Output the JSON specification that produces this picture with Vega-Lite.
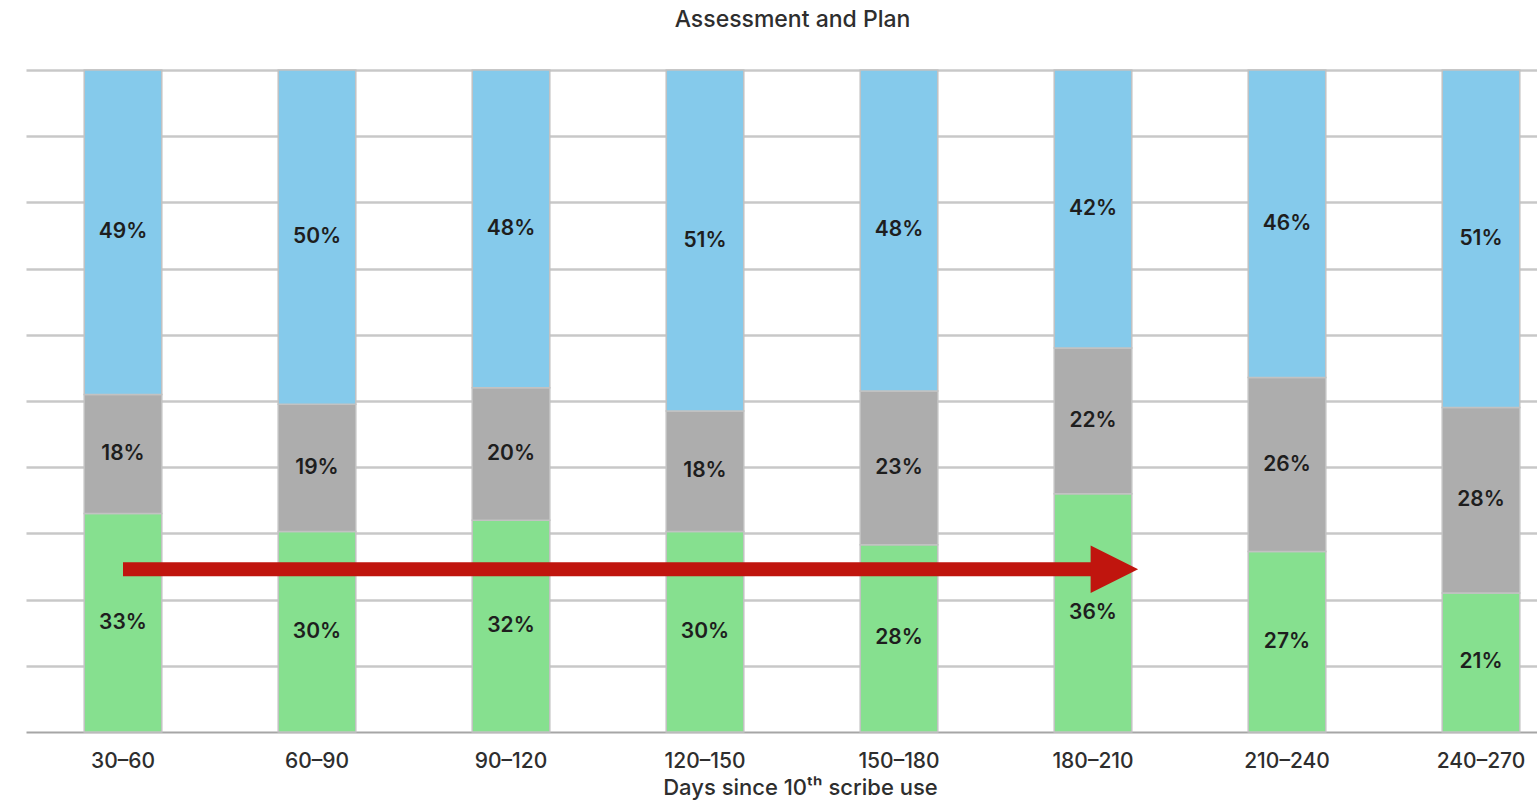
{
  "$schema": "https://vega.github.io/schema/vega-lite/v6.json",
  "autosize": {"type": "none"},
  "padding": {"left": 26, "top": 70, "right": 0, "bottom": 69},
  "width": 1511,
  "height": 662,
  "background": "white",
  "title": {
    "text": "Assessment and Plan",
    "anchor": "middle",
    "dx": 11,
    "offset": 37,
    "font": "Inter",
    "fontSize": 23,
    "fontWeight": 500,
    "color": "#2e2e2e"
  },
  "config": {
    "view": {"stroke": null},
    "font": "Inter"
  },
  "datasets": {
    "shares": [
      {"days": "30–60", "group": "A", "rank": 1, "pct": 0.33},
      {"days": "30–60", "group": "B", "rank": 2, "pct": 0.18},
      {"days": "30–60", "group": "C", "rank": 3, "pct": 0.49},
      {"days": "60–90", "group": "A", "rank": 1, "pct": 0.30},
      {"days": "60–90", "group": "B", "rank": 2, "pct": 0.19},
      {"days": "60–90", "group": "C", "rank": 3, "pct": 0.50},
      {"days": "90–120", "group": "A", "rank": 1, "pct": 0.32},
      {"days": "90–120", "group": "B", "rank": 2, "pct": 0.20},
      {"days": "90–120", "group": "C", "rank": 3, "pct": 0.48},
      {"days": "120–150", "group": "A", "rank": 1, "pct": 0.30},
      {"days": "120–150", "group": "B", "rank": 2, "pct": 0.18},
      {"days": "120–150", "group": "C", "rank": 3, "pct": 0.51},
      {"days": "150–180", "group": "A", "rank": 1, "pct": 0.28},
      {"days": "150–180", "group": "B", "rank": 2, "pct": 0.23},
      {"days": "150–180", "group": "C", "rank": 3, "pct": 0.48},
      {"days": "180–210", "group": "A", "rank": 1, "pct": 0.36},
      {"days": "180–210", "group": "B", "rank": 2, "pct": 0.22},
      {"days": "180–210", "group": "C", "rank": 3, "pct": 0.42},
      {"days": "210–240", "group": "A", "rank": 1, "pct": 0.27},
      {"days": "210–240", "group": "B", "rank": 2, "pct": 0.26},
      {"days": "210–240", "group": "C", "rank": 3, "pct": 0.46},
      {"days": "240–270", "group": "A", "rank": 1, "pct": 0.21},
      {"days": "240–270", "group": "B", "rank": 2, "pct": 0.28},
      {"days": "240–270", "group": "C", "rank": 3, "pct": 0.51}
    ],
    "trend": [
      {"from": "30–60", "to": "180–210", "level": 0.246}
    ]
  },
  "layer": [
    {
      "data": {"name": "shares"},
      "mark": {"type": "bar", "stroke": "#c2c2c2", "strokeWidth": 1.5},
      "encoding": {
        "x": {
          "field": "days",
          "type": "ordinal",
          "sort": null,
          "scale": {"range": [0, 1552], "paddingInner": 0.6, "paddingOuter": 0.3},
          "axis": {
            "title": "Days since 10ᵗʰ scribe use",
            "labelAngle": 0,
            "ticks": false,
            "domainColor": "#a6a6a6",
            "domainWidth": 2,
            "labelFont": "Inter",
            "labelFontSize": 21,
            "labelFontWeight": 500,
            "labelColor": "#2e2e2e",
            "labelPadding": 18,
            "titleFont": "Inter",
            "titleFontSize": 22,
            "titleFontWeight": 500,
            "titleColor": "#2e2e2e",
            "titlePadding": 6,
            "titleX": 774
          }
        },
        "y": {
          "field": "pct",
          "type": "quantitative",
          "stack": "normalize",
          "scale": {"domain": [0, 1]},
          "axis": {
            "title": null,
            "labels": false,
            "ticks": false,
            "domain": false,
            "values": [0.1, 0.2, 0.3, 0.4, 0.5, 0.6, 0.7, 0.8, 0.9, 1],
            "gridColor": "#c8c8c8",
            "gridWidth": 2.5
          }
        },
        "color": {
          "field": "group",
          "type": "nominal",
          "scale": {"domain": ["A", "B", "C"], "range": ["#86e08f", "#adadad", "#85caeb"]},
          "legend": null
        },
        "order": {"field": "rank"}
      }
    },
    {
      "data": {"name": "shares"},
      "mark": {"type": "text", "font": "Inter", "fontSize": 21, "fontWeight": 600, "color": "#1e1e1e", "baseline": "middle"},
      "encoding": {
        "x": {"field": "days", "type": "ordinal", "sort": null},
        "y": {"field": "pct", "type": "quantitative", "stack": "normalize", "bandPosition": 0.5},
        "detail": {"field": "group"},
        "order": {"field": "rank"},
        "text": {"field": "pct", "type": "quantitative", "format": ".0%"}
      }
    },
    {
      "data": {"name": "trend"},
      "mark": {"type": "rule", "color": "#c0150e", "strokeWidth": 14, "strokeCap": "butt"},
      "encoding": {
        "x": {"field": "from", "type": "ordinal", "sort": null},
        "x2": {"field": "to"},
        "y": {"field": "level", "type": "quantitative"}
      }
    },
    {
      "data": {"name": "trend"},
      "mark": {"type": "point", "shape": "M-0.1,-1L1.9,0L-0.1,1Z", "size": 2256, "filled": true, "color": "#c0150e", "opacity": 1},
      "encoding": {
        "x": {"field": "to", "type": "ordinal", "sort": null},
        "y": {"field": "level", "type": "quantitative"}
      }
    }
  ]
}
